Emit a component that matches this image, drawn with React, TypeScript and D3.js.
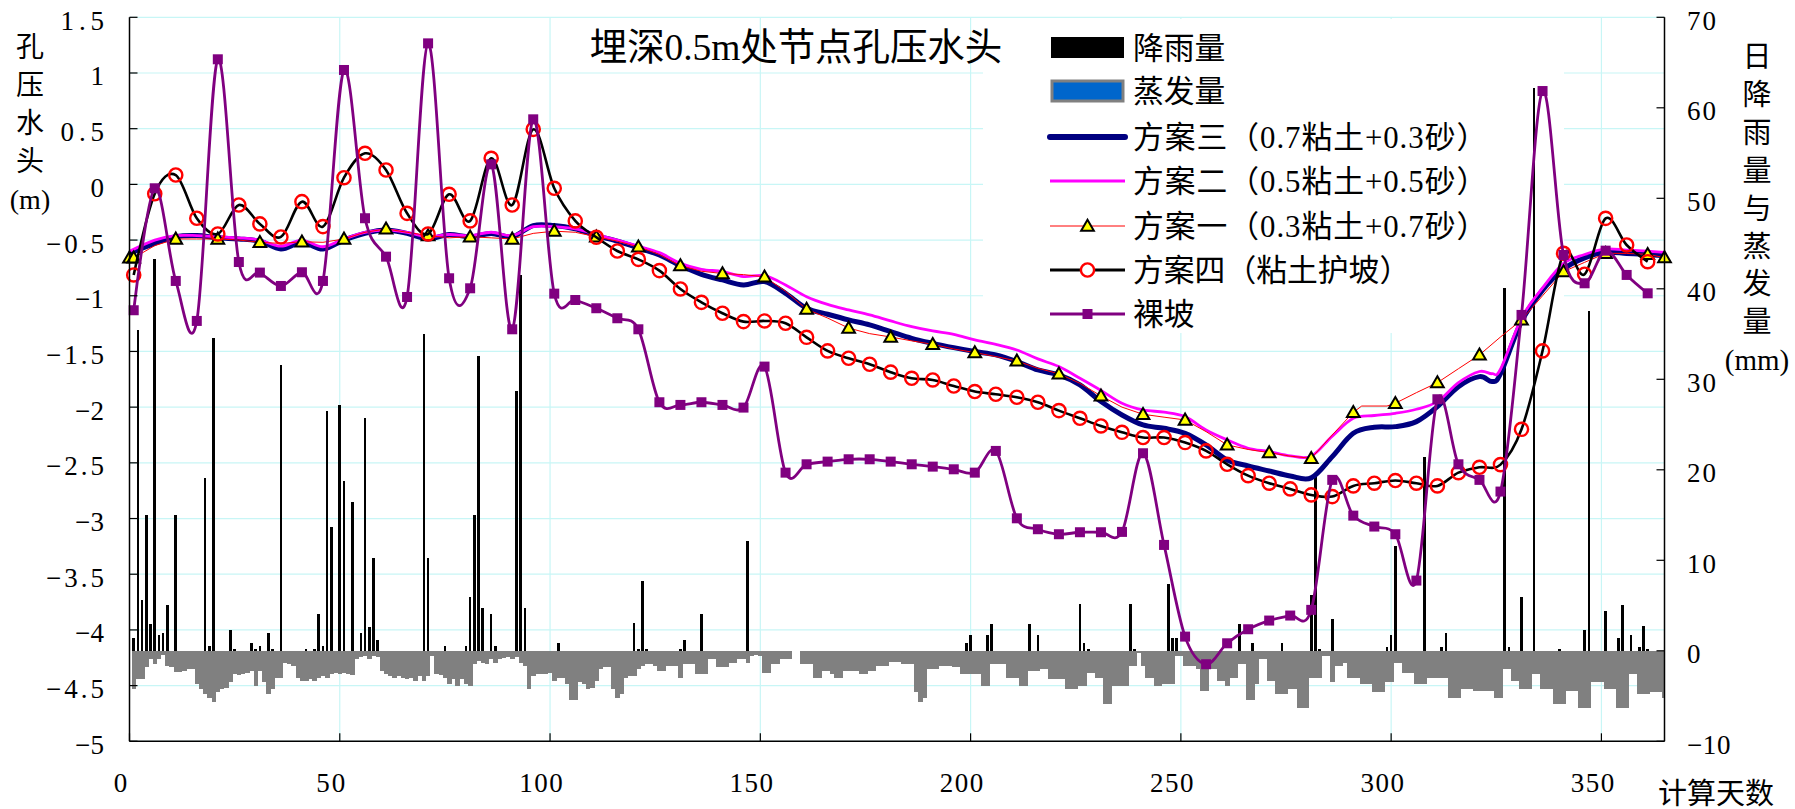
import React from "react";
import * as d3 from "d3";

const WIDTH = 1795;
const HEIGHT = 809;

// ---------- axes ----------
const xTicks = [0, 50, 100, 150, 200, 250, 300, 350];
const leftTicks = [1.5, 1, 0.5, 0, -0.5, -1, -1.5, -2, -2.5, -3, -3.5, -4, -4.5, -5];
const leftTickLabels = ["1.5", "1", "0.5", "0", "−0.5", "−1", "−1.5", "−2", "−2.5", "−3", "−3.5", "−4", "−4.5", "−5"];
const rightTicks = [70, 60, 50, 40, 30, 20, 10, 0, -10];
const rightTickLabels = ["70", "60", "50", "40", "30", "20", "10", "0", "−10"];

const titleText = "埋深0.5m处节点孔压水头";
const leftTitleChars = ["孔", "压", "水", "头", "(m)"];
const rightTitleChars = ["日", "降", "雨", "量", "与", "蒸", "发", "量", "(mm)"];
const xTitle = "计算天数";
const legendLabels = [
  "降雨量",
  "蒸发量",
  "方案三（0.7粘土+0.3砂）",
  "方案二（0.5粘土+0.5砂）",
  "方案一（0.3粘土+0.7砂）",
  "方案四（粘土护坡）",
  "裸坡",
];

// ---------- series: [day, pore-water head (m)] ----------
const scheme3: [number, number][] = [
  [0, -0.62], [6, -0.53], [11, -0.47], [16, -0.46], [21, -0.48], [26, -0.49], [31, -0.51], [36, -0.58],
  [41, -0.52], [46, -0.58], [51, -0.5], [56, -0.44], [61, -0.41], [66, -0.44], [71, -0.49], [76, -0.45],
  [81, -0.47], [86, -0.44], [91, -0.47], [96, -0.37], [101, -0.37], [106, -0.4], [111, -0.46], [116, -0.51],
  [121, -0.57], [126, -0.634], [131, -0.729], [136, -0.807], [141, -0.858], [146, -0.903], [151, -0.873],
  [156, -0.978], [161, -1.112], [166, -1.166], [171, -1.217], [176, -1.262], [181, -1.322], [186, -1.382],
  [191, -1.427], [196, -1.466], [201, -1.501], [206, -1.531], [211, -1.591], [216, -1.666], [221, -1.71],
  [226, -1.8], [231, -1.95], [236, -2.07], [241, -2.16], [246, -2.19], [251, -2.235], [256, -2.339],
  [261, -2.474], [266, -2.528], [271, -2.573], [276, -2.618], [281, -2.635], [286, -2.444], [291, -2.235],
  [296, -2.181], [301, -2.175], [306, -2.13], [311, -1.995], [316, -1.816], [321, -1.726], [324, -1.77],
  [326, -1.7], [331, -1.23], [336, -0.95], [341, -0.76], [346, -0.66], [351, -0.61], [356, -0.62],
  [361, -0.63], [365, -0.64],
];

const scheme2: [number, number][] = [
  [0, -0.6], [6, -0.5], [11, -0.46], [16, -0.46], [21, -0.47], [26, -0.48], [31, -0.5], [36, -0.555],
  [41, -0.5], [46, -0.56], [51, -0.49], [56, -0.43], [61, -0.41], [66, -0.43], [71, -0.47], [76, -0.45],
  [81, -0.46], [86, -0.43], [91, -0.46], [96, -0.38], [101, -0.38], [106, -0.4], [111, -0.45], [116, -0.5],
  [121, -0.555], [126, -0.613], [131, -0.709], [136, -0.762], [141, -0.783], [146, -0.828], [151, -0.819],
  [156, -0.903], [161, -1.008], [166, -1.077], [171, -1.127], [176, -1.172], [181, -1.226], [186, -1.277],
  [191, -1.316], [196, -1.346], [201, -1.397], [206, -1.436], [211, -1.487], [216, -1.567], [221, -1.636],
  [226, -1.741], [231, -1.85], [236, -1.965], [241, -2.025], [246, -2.045], [251, -2.085], [256, -2.205],
  [261, -2.294], [266, -2.369], [271, -2.399], [276, -2.438], [281, -2.44], [286, -2.26], [291, -2.1],
  [296, -2.075], [301, -2.055], [306, -2.019], [311, -1.95], [316, -1.78], [321, -1.68], [324, -1.7],
  [326, -1.66], [331, -1.2], [336, -0.93], [341, -0.71], [346, -0.63], [351, -0.58], [356, -0.59],
  [361, -0.6], [365, -0.61],
];

const scheme1: [number, number][] = [
  [0, -0.66], [1, -0.66], [6, -0.55], [11, -0.49], [16, -0.49], [21, -0.49], [26, -0.5], [31, -0.52],
  [36, -0.53], [41, -0.515], [46, -0.52], [51, -0.49], [56, -0.43], [61, -0.4], [66, -0.43], [71, -0.46],
  [76, -0.48], [81, -0.47], [86, -0.48], [91, -0.49], [96, -0.44], [101, -0.42], [106, -0.43], [111, -0.47],
  [116, -0.51], [121, -0.56], [126, -0.63], [131, -0.73], [136, -0.78], [141, -0.8], [146, -0.81],
  [151, -0.83], [156, -0.96], [161, -1.12], [166, -1.2], [171, -1.29], [176, -1.34], [181, -1.37],
  [186, -1.405], [191, -1.436], [196, -1.478], [201, -1.51], [206, -1.546], [211, -1.585], [216, -1.651],
  [221, -1.7], [226, -1.786], [231, -1.899], [236, -2.0], [241, -2.064], [246, -2.09], [251, -2.115],
  [256, -2.22], [261, -2.339], [266, -2.38], [271, -2.408], [276, -2.44], [281, -2.459], [286, -2.25],
  [291, -2.046], [293, -1.99], [299, -1.99], [301, -1.965], [306, -1.87], [311, -1.78], [316, -1.655],
  [321, -1.531], [326, -1.37], [331, -1.217], [336, -1.0], [341, -0.783], [346, -0.7], [351, -0.619],
  [356, -0.62], [361, -0.628], [365, -0.658],
];
const scheme1MarkerDays = [0, 1, 11, 21, 31, 41, 51, 61, 71, 81, 91, 101, 111, 121, 131, 141, 151, 161, 171,
  181, 191, 201, 211, 221, 231, 241, 251, 261, 271, 281, 291, 301, 311, 321, 331, 341, 351, 361, 365];

const scheme4: [number, number][] = [
  [1, -0.813], [6, -0.084], [11, 0.084], [16, -0.304], [21, -0.445], [26, -0.185], [31, -0.355], [36, -0.472],
  [41, -0.155], [46, -0.379], [51, 0.06], [56, 0.279], [61, 0.129], [66, -0.26], [71, -0.445], [76, -0.089],
  [81, -0.328], [86, 0.234], [91, -0.185], [96, 0.494], [101, -0.035], [106, -0.328], [111, -0.475],
  [116, -0.598], [121, -0.673], [126, -0.774], [131, -0.939], [136, -1.059], [141, -1.157], [146, -1.232],
  [151, -1.226], [156, -1.247], [161, -1.373], [166, -1.495], [171, -1.561], [176, -1.615], [181, -1.686],
  [186, -1.741], [191, -1.756], [196, -1.81], [201, -1.86], [206, -1.884], [211, -1.911], [216, -1.956],
  [221, -2.031], [226, -2.1], [231, -2.169], [236, -2.226], [241, -2.273], [246, -2.273], [251, -2.318],
  [256, -2.393], [261, -2.513], [266, -2.615], [271, -2.683], [276, -2.734], [281, -2.788], [286, -2.803],
  [291, -2.707], [296, -2.683], [301, -2.659], [306, -2.683], [311, -2.707], [316, -2.588], [321, -2.54],
  [326, -2.516], [331, -2.199], [336, -1.495], [341, -0.619], [346, -0.807], [351, -0.305], [356, -0.544],
  [361, -0.694],
];

const bareSlope: [number, number][] = [
  [1, -1.13], [6, -0.035], [11, -0.867], [16, -1.226], [21, 1.123], [26, -0.697], [31, -0.792], [36, -0.912],
  [41, -0.789], [46, -0.867], [51, 1.027], [56, -0.304], [61, -0.649], [66, -1.011], [71, 1.266], [76, -0.843],
  [81, -0.933], [86, 0.18], [91, -1.301], [96, 0.584], [101, -0.981], [106, -1.038], [111, -1.112],
  [116, -1.202], [121, -1.301], [126, -1.956], [131, -1.98], [136, -1.956], [141, -1.98], [146, -2.004],
  [151, -1.636], [156, -2.588], [161, -2.513], [166, -2.489], [171, -2.468], [176, -2.468], [181, -2.489],
  [186, -2.513], [191, -2.534], [196, -2.558], [201, -2.588], [206, -2.393], [211, -2.998], [216, -3.096],
  [221, -3.141], [226, -3.123], [231, -3.123], [236, -3.12], [241, -2.414], [246, -3.237], [251, -4.06],
  [256, -4.308], [261, -4.12], [266, -3.994], [271, -3.916], [276, -3.871], [281, -3.82], [286, -2.653],
  [291, -2.974], [296, -3.072], [301, -3.141], [306, -3.557], [311, -1.929], [316, -2.513], [321, -2.653],
  [326, -2.758], [331, -1.172], [336, 0.838], [341, -0.634], [346, -0.888], [351, -0.595], [356, -0.813],
  [361, -0.978],
];

// ---------- daily rainfall (mm): [day, value] ----------
const rainfall: [number, number][] = [
  [1, 1.4], [2, 35.5], [3, 5.6], [4, 15.0], [5, 3.0], [6, 43.3], [7, 1.7], [8, 2.0], [9, 5.1], [11, 15.0],
  [18, 19.1], [19, 0.55], [20, 34.6], [24, 2.3], [25, 0.2], [29, 0.85], [30, 0.2], [31, 0.55], [33, 2.0],
  [34, 0.2], [36, 31.6], [42, 0.2], [44, 0.2], [45, 4.1], [46, 0.55], [47, 26.5], [48, 13.7], [50, 27.2],
  [51, 18.8], [53, 16.4], [55, 2.0], [56, 25.7], [57, 2.6], [58, 10.2], [59, 1.2], [70, 35.0], [71, 10.3],
  [75, 0.55], [80, 0.55], [81, 5.9], [82, 15.0], [83, 32.6], [84, 4.7], [86, 4.1], [87, 0.55], [92, 28.7],
  [93, 41.5], [94, 4.7], [102, 0.85], [120, 3.1], [121, 0.2], [122, 7.7], [123, 0.2], [131, 0.2], [132, 1.2],
  [136, 4.1], [147, 12.1], [199, 0.85], [200, 1.7], [204, 1.7], [205, 3.0], [214, 3.0], [216, 1.7],
  [226, 5.2], [227, 0.85], [228, 0.2], [238, 5.2], [239, 0.2], [247, 7.4], [248, 1.4], [249, 1.4],
  [264, 3.0], [267, 0.85], [274, 0.85], [281, 6.2], [282, 19.2], [283, 0.2], [286, 3.5], [299, 0.4],
  [300, 1.7], [301, 11.6], [308, 21.4], [312, 0.4], [313, 2.0], [327, 40.1], [328, 0.4], [331, 5.9],
  [334, 62.2], [340, 0.2], [346, 2.3], [347, 37.6], [351, 4.4], [354, 1.4], [355, 5.1], [357, 1.7],
  [359, 0.4], [360, 2.7], [361, 0.2],
];

// ---------- daily evaporation (mm), days 1..365 ----------
const evaporation: number[] = [
  -4.2, -3.1, -3.1, -1.8, -0.9, -1.5, -0.9, -0.5, -1.7, -1.8,
  -2.3, -2.3, -2.2, -2.0, -2.0, -3.7, -4.2, -4.8, -5.2, -5.7,
  -4.6, -4.2, -4.1, -3.5, -2.6, -2.7, -2.6, -2.4, -2.2, -3.9,
  -2.2, -3.5, -4.8, -4.2, -3.0, -3.0, -1.3, -1.5, -1.7, -3.0,
  -3.3, -3.3, -3.1, -3.3, -3.0, -2.8, -3.0, -2.6, -2.4, -2.6,
  -2.5, -2.6, -2.7, -0.9, -0.7, -0.6, -0.9, -0.6, -0.7, -2.2,
  -2.6, -2.8, -3.0, -2.8, -3.0, -3.1, -3.0, -3.3, -2.8, -3.3,
  -2.8, -0.6, -2.6, -2.7, -3.0, -3.7, -3.1, -3.9, -3.1, -3.7,
  -3.9, -1.5, -1.1, -1.3, -1.5, -0.9, -1.3, -0.9, -0.85, -0.7,
  -0.9, -0.7, -1.3, -1.7, -4.2, -2.8, -2.6, -2.6, -2.6, -2.4,
  -3.3, -3.0, -3.0, -3.7, -5.4, -5.4, -3.5, -3.7, -4.2, -4.1,
  -3.3, -2.0, -1.8, -1.8, -4.2, -5.2, -4.8, -3.0, -2.8, -2.8,
  -2.0, -1.7,
  -1.5, -1.5, -1.7, -2.2, -2.2, -1.7, -1.7, -1.7, -3.0, -1.5,
  -1.5, -1.5, -2.6, -2.6, -2.6, -0.9, -0.9, -1.8, -1.8, -1.8,
  -1.3, -1.3, -0.9, -0.9, -1.3, -0.6, -0.5, -0.6, -2.4, -2.4,
  -1.5, -1.5, -0.9, -0.9, -0.9, 0, 0, -1.5, -1.5, -1.5,
  -3.0, -3.0, -2.2, -2.2, -2.6, -3.0, -3.0, -2.2, -2.2, -2.2,
  -2.2, -2.6, -2.6, -2.2, -2.2, -1.7, -1.7, -1.7, -1.2, -1.2,
  -1.2, -1.5, -1.5, -1.5, -4.5, -5.7, -5.2, -2.0, -2.0, -2.0,
  -1.7, -1.7, -1.7, -1.8, -1.8, -2.6, -2.6, -2.6, -2.6, -2.6,
  -3.9, -3.9, -1.5, -1.5, -1.5, -1.5, -3.0, -3.0, -3.0, -3.9,
  -3.9, -2.2, -2.2, -2.2, -2.0, -2.0, -3.1, -3.1, -3.1, -3.1,
  -4.2, -4.2, -4.2, -3.9, -3.9, -2.4, -2.4, -3.0, -3.0, -5.9,
  -5.9, -3.9, -3.9, -3.9, -3.9, -1.7, -1.7, -0.2, -1.7, -3.0,
  -3.0, -3.9, -3.9, -3.7, -3.7, -3.7, -0.55, -0.55, -1.7, -1.7,
  -1.7, -2.0, -4.4, -4.4, -2.0, -2.0, -3.3, -3.3, -3.9, -3.0,
  -3.0, -1.5, -1.5, -5.4, -5.4, -3.7, -0.9, -0.9, -3.3, -3.3,
  -4.8, -4.8, -4.8, -4.2, -4.2, -6.3, -6.3, -6.3, -3.0, -3.0,
  -3.0, -0.55, -0.55, -3.5, -1.7, -1.7, -1.3, -3.0, -3.0, -3.0,
  -3.7, -3.7, -3.7, -4.6, -4.6, -4.6, -3.5, -3.5, -1.3, -1.3,
  -2.4, -2.4, -2.4, -3.7, -3.7, -3.7, -3.0, -3.0, -3.0, -3.0,
  -3.0, -5.2, -5.2, -5.2, -4.2, -4.2, -4.2, -4.4, -4.4, -4.4,
  -4.4, -4.4, -5.2, -5.2, -2.0, -2.0, -3.3, -3.3, -4.2, -4.2,
  -4.2, -2.6, -2.6, -4.2, -4.2, -4.2, -5.9, -5.9, -5.9, -4.4,
  -4.4, -4.4, -6.3, -6.3, -6.3, -3.5, -3.5, -3.5, -4.2, -4.2,
  -4.2, -6.3, -6.3, -6.3, -2.6, -2.6, -4.8, -4.8, -4.8, -4.6,
  -4.6, -4.6, -5.2,
];

// ---------- style ----------
const FONT = "'Liberation Serif', 'Noto Sans CJK SC', serif";
const GRID = "#c8f6f6";

// SimSun-like advance: ASCII half width, CJK full width
function simWidth(s: string, fs: number) {
  let w = 0;
  for (const ch of s) {
    const c = ch.charCodeAt(0);
    w += c < 256 || ch === "−" ? 0.5 : 1;
  }
  return w * fs;
}

export default function App() {
  const left = 129.5;
  const right = 1664.5;
  const top = 17.3;
  const bottom = 741.3;

  const x = d3.scaleLinear().domain([0, 365]).range([left, right]);
  const yL = d3.scaleLinear().domain([-5, 1.5]).range([bottom, top]);
  const yR = d3.scaleLinear().domain([-10, 70]).range([bottom, top]);

  const smooth = d3
    .line<[number, number]>()
    .x((d) => x(d[0]))
    .y((d) => yL(d[1]))
    .curve(d3.curveCatmullRom.alpha(0));
  const straight = d3
    .line<[number, number]>()
    .x((d) => x(d[0]))
    .y((d) => yL(d[1]))
    .curve(d3.curveLinear);

  const dayW = x(1) - x(0);
  const rainW = 2.6;

  const tri = d3.symbol().type(d3.symbolTriangle).size(70)() as string;

  const s1Map = new Map(scheme1.map((d) => [d[0], d[1]]));

  const legendRows = [48, 91, 137, 181, 226, 270, 314];
  const swX0 = 1050;
  const swX1 = 1125;
  const swMid = (swX0 + swX1) / 2;
  const textX = 1133;
  const legendFs = 30.8;

  const tickFs = 27;
  const cell = 14.5;

  return (
    <div style={{ position: "absolute", left: 0, top: 0, width: WIDTH, height: HEIGHT, background: "#fff" }}>
      <svg width={WIDTH} height={HEIGHT} viewBox={`0 0 ${WIDTH} ${HEIGHT}`} style={{ display: "block" }}>
        <rect x={0} y={0} width={WIDTH} height={HEIGHT} fill="#fff" />

        {/* grid */}
        {leftTicks.map((t) => (
          <line key={"gh" + t} x1={left} x2={right} y1={yL(t)} y2={yL(t)} stroke={GRID} strokeWidth={1.2} />
        ))}
        {xTicks.slice(1).map((t) => (
          <line key={"gv" + t} x1={x(t)} x2={x(t)} y1={top} y2={bottom} stroke={GRID} strokeWidth={1.2} />
        ))}
        {/* legend area masks grid */}
        <rect x={983} y={19} width={581} height={314} fill="#fff" />

        {/* evaporation bars */}
        <g shapeRendering="crispEdges">
          {evaporation.map((v, i) => {
            const d = i + 1;
            const x0 = x(d - 0.5);
            const x1 = Math.min(x(d + 0.5), right - 0.5);
            return (
              <rect key={"e" + i} x={x0} y={yR(0)} width={Math.max(0, x1 - x0 + 0.3)} height={yR(v) - yR(0)} fill="#808080" />
            );
          })}
        </g>
        {/* rainfall bars */}
        <g shapeRendering="crispEdges">
          {rainfall.map(([d, v]) => (
            <rect key={"r" + d} x={x(d) - rainW / 2} y={yR(v)} width={rainW} height={yR(0) - yR(v)} fill="#000" />
          ))}
        </g>

        {/* series */}
        <path d={smooth(scheme3) || ""} fill="none" stroke="#000080" strokeWidth={5} strokeLinejoin="round" />
        <path d={smooth(scheme2) || ""} fill="none" stroke="#ff00ff" strokeWidth={2.8} strokeLinejoin="round" />
        <path d={straight(scheme1) || ""} fill="none" stroke="#ff0000" strokeWidth={1} />
        {scheme1MarkerDays.map((d) => (
          <path
            key={"t" + d}
            d={tri}
            transform={`translate(${x(d)},${yL(s1Map.get(d) as number) + 1})`}
            fill="#ffff00"
            stroke="#000"
            strokeWidth={2}
            strokeLinejoin="miter"
          />
        ))}
        <path d={smooth(scheme4) || ""} fill="none" stroke="#000" strokeWidth={2.6} />
        {scheme4.map(([d, v]) => (
          <circle key={"c" + d} cx={x(d)} cy={yL(v)} r={6.6} fill="none" stroke="#ff0000" strokeWidth={2.4} />
        ))}
        <path d={smooth(bareSlope) || ""} fill="none" stroke="#800080" strokeWidth={2.8} />
        {bareSlope.map(([d, v]) => (
          <rect key={"s" + d} x={x(d) - 5} y={yL(v) - 5} width={10} height={10} fill="#800080" />
        ))}

        {/* axes */}
        <line x1={left} x2={left} y1={top} y2={bottom} stroke="#000" strokeWidth={1.5} />
        <line x1={right} x2={right} y1={top} y2={bottom} stroke="#000" strokeWidth={1.5} />
        <line x1={left} x2={right} y1={bottom} y2={bottom} stroke="#000" strokeWidth={1.5} />
        {leftTicks.map((t) => (
          <line key={"lt" + t} x1={left} x2={left + 8} y1={yL(t)} y2={yL(t)} stroke="#000" strokeWidth={1.2} />
        ))}
        {rightTicks.map((t) => (
          <line key={"rt" + t} x1={right - 8} x2={right} y1={yR(t)} y2={yR(t)} stroke="#000" strokeWidth={1.2} />
        ))}
        {xTicks.map((t) => (
          <line key={"xt" + t} x1={x(t)} x2={x(t)} y1={bottom - 8} y2={bottom} stroke="#000" strokeWidth={1.2} />
        ))}

        {/* tick labels */}
        <g fontFamily={FONT} fontSize={tickFs} fill="#000">
          {leftTicks.map((t, i) => (
            <text
              key={"ll" + t}
              x={104}
              y={yL(t) + 3.5}
              textAnchor="end"
              dominantBaseline="central"
              textLength={leftTickLabels[i].length * cell}
              lengthAdjust="spacing"
            >
              {leftTickLabels[i]}
            </text>
          ))}
          {rightTicks.map((t, i) => (
            <text
              key={"rl" + t}
              x={1687}
              y={yR(t) + 3.5}
              textAnchor="start"
              dominantBaseline="central"
              textLength={rightTickLabels[i].length * cell}
              lengthAdjust="spacing"
            >
              {rightTickLabels[i]}
            </text>
          ))}
          {xTicks.map((t) => (
            <text
              key={"xl" + t}
              x={x(t) - 9}
              y={783}
              textAnchor="middle"
              dominantBaseline="central"
              textLength={String(t).length * cell}
              lengthAdjust="spacing"
            >
              {t}
            </text>
          ))}
        </g>

        {/* axis titles */}
        <g fontFamily={FONT} fill="#000">
          {leftTitleChars.map((c, i) => (
            <text key={"lc" + i} x={30} y={47 + i * 38} fontSize={28} textAnchor="middle" dominantBaseline="central">
              {c}
            </text>
          ))}
          {rightTitleChars.map((c, i) => (
            <text key={"rc" + i} x={1757} y={57 + i * 37.9} fontSize={29} textAnchor="middle" dominantBaseline="central">
              {c}
            </text>
          ))}
          <text x={1716} y={794} fontSize={29} textAnchor="middle" dominantBaseline="central">
            {xTitle}
          </text>
          <text
            x={796}
            y={47.5}
            fontSize={37.5}
            textAnchor="middle"
            dominantBaseline="central"
            textLength={simWidth(titleText, 37.5)}
            lengthAdjust="spacing"
          >
            {titleText}
          </text>
        </g>

        {/* legend */}
        <g>
          <rect x={swX0 + 1} y={legendRows[0] - 11} width={swX1 - swX0 - 2} height={21} fill="#000" />
          <rect
            x={swX0 + 2}
            y={legendRows[1] - 10}
            width={swX1 - swX0 - 4}
            height={20}
            fill="#0066cc"
            stroke="#808080"
            strokeWidth={3}
          />
          <line x1={swX0} x2={swX1} y1={legendRows[2]} y2={legendRows[2]} stroke="#000080" strokeWidth={6} strokeLinecap="round" />
          <line x1={swX0} x2={swX1} y1={legendRows[3]} y2={legendRows[3]} stroke="#ff00ff" strokeWidth={3} />
          <line x1={swX0} x2={swX1} y1={legendRows[4]} y2={legendRows[4]} stroke="#ff0000" strokeWidth={1} />
          <path d={tri} transform={`translate(${swMid},${legendRows[4] + 1})`} fill="#ffff00" stroke="#000" strokeWidth={2} />
          <line x1={swX0} x2={swX1} y1={legendRows[5]} y2={legendRows[5]} stroke="#000" strokeWidth={3} />
          <circle cx={swMid} cy={legendRows[5]} r={6.6} fill="#fff" stroke="#ff0000" strokeWidth={2.4} />
          <line x1={swX0} x2={swX1} y1={legendRows[6]} y2={legendRows[6]} stroke="#800080" strokeWidth={3} />
          <rect x={swMid - 5} y={legendRows[6] - 5} width={10} height={10} fill="#800080" />
          <g fontFamily={FONT} fontSize={legendFs} fill="#000">
            {legendLabels.map((l, i) => (
              <text
                key={"lg" + i}
                x={textX}
                y={legendRows[i] + 1}
                dominantBaseline="central"
                textLength={simWidth(l, legendFs)}
                lengthAdjust="spacing"
              >
                {l}
              </text>
            ))}
          </g>
        </g>
      </svg>
    </div>
  );
}
